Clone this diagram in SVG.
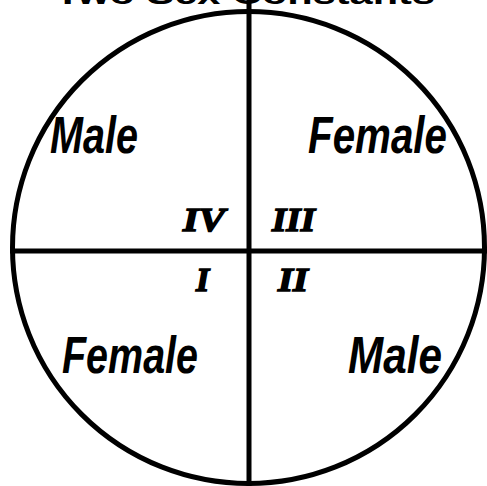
<svg xmlns="http://www.w3.org/2000/svg" width="487" height="486" viewBox="0 0 487 486">
<style>
.ln{stroke:#000;stroke-width:5;fill:none;stroke-linecap:butt}
.lbl{font-family:"Liberation Sans","DejaVu Sans",sans-serif;font-weight:bold;font-style:italic;font-size:42px;fill:#000}
.num{font-family:"Liberation Serif","DejaVu Serif",serif;font-weight:bold;font-style:italic;font-size:34px;fill:#000;stroke:#000;stroke-width:1.5}
.ttl{font-family:"Liberation Sans","DejaVu Sans",sans-serif;font-weight:bold;font-size:30px;fill:#000}
</style>
<rect width="487" height="486" fill="#fff"/>
<text class="ttl" x="55" y="4" textLength="380" lengthAdjust="spacingAndGlyphs">Two Sex Constants</text>
<g id="connectors">
<circle class="ln" cx="248.5" cy="247.5" r="236" stroke-width="4"/>
<line class="ln" x1="249" y1="0" x2="249" y2="486"/>
<line class="ln" x1="10" y1="251" x2="487" y2="251"/>
</g>
<g id="q-male-ul" transform="translate(50,153) scale(1,1.25)"><text class="lbl" x="0" y="0" textLength="88" lengthAdjust="spacingAndGlyphs">Male</text></g>
<g id="q-female-ur" transform="translate(308,153) scale(1,1.25)"><text class="lbl" x="0" y="0" textLength="139" lengthAdjust="spacingAndGlyphs">Female</text></g>
<g id="q-female-ll" transform="translate(62,373) scale(1,1.25)"><text class="lbl" x="0" y="0" textLength="136" lengthAdjust="spacingAndGlyphs">Female</text></g>
<g id="q-male-lr" transform="translate(348,373) scale(1,1.25)"><text class="lbl" x="0" y="0" textLength="94" lengthAdjust="spacingAndGlyphs">Male</text></g>
<g id="n-iv"><text class="num" x="183" y="231" textLength="42" lengthAdjust="spacingAndGlyphs">IV</text></g>
<g id="n-iii"><text class="num" x="272" y="231" textLength="43" lengthAdjust="spacingAndGlyphs">III</text></g>
<g id="n-i"><text class="num" x="196" y="291">I</text></g>
<g id="n-ii"><text class="num" x="278" y="291" textLength="30" lengthAdjust="spacingAndGlyphs">II</text></g>
</svg>
